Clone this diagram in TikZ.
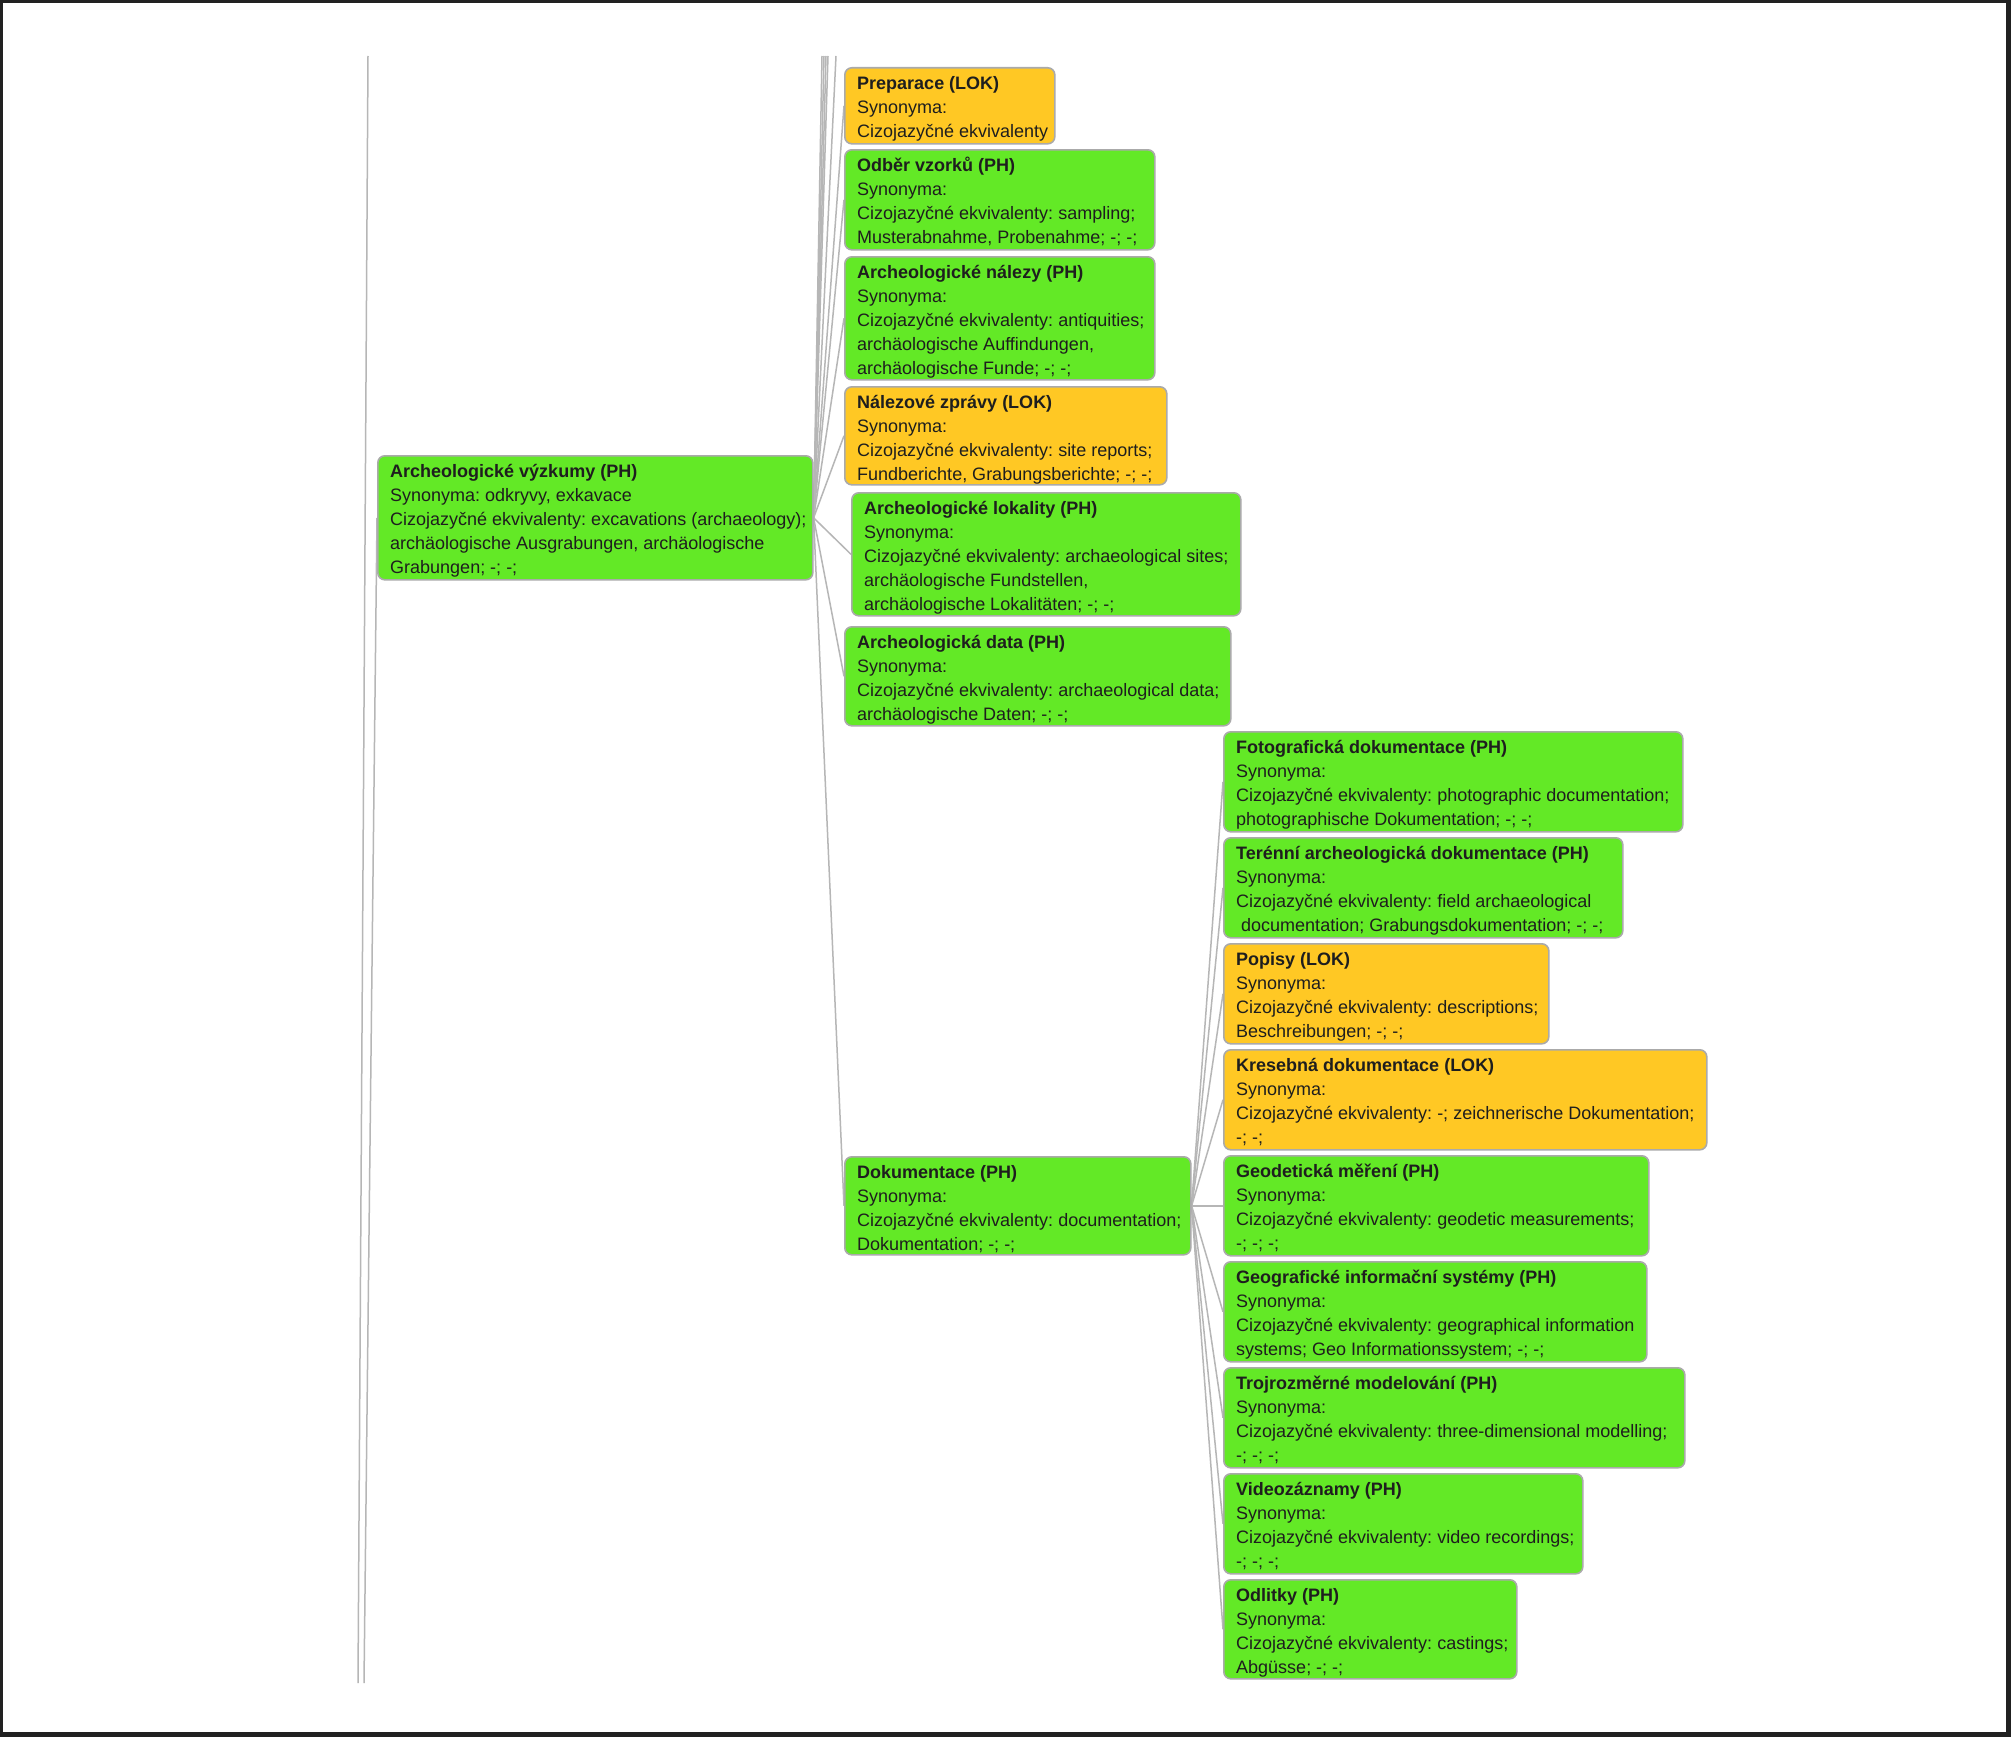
\documentclass[tikz,border=0pt]{standalone}
\usepackage{fontspec}
\setmainfont{Liberation Sans}
\usetikzlibrary{backgrounds}
\definecolor{gr}{RGB}{99,233,38}
\definecolor{og}{RGB}{255,200,36}
\definecolor{bd}{RGB}{170,170,170}
\definecolor{ln}{RGB}{182,182,182}
\definecolor{tx}{RGB}{30,30,30}
\definecolor{fr}{RGB}{33,33,33}
\tikzset{
  box/.style={draw=bd, line width=1.6pt, rounded corners=7pt, inner sep=0pt, anchor=north west},
  phbox/.style={box, fill=gr},
  lokbox/.style={box, fill=og},
  txt/.style={inner sep=0pt, anchor=north west, align=left, text=tx, font=\fontsize{18}{24}\selectfont\frenchspacing},
  conn/.style={draw=ln, line width=1.5pt},
}
% name, x1, y1, x2, y2, style, text
\newcommand{\termbox}[7]{%
  \node[#6, minimum width={#4-#2}, minimum height={#5-#3}] (#1) at (#2,#3) {};
  \node[txt] (#1t) at ({#2+13},{#3+5}) {\rule{0pt}{17pt}#7};
}
\begin{document}
\begin{tikzpicture}[x=1pt,y=-1pt]
\useasboundingbox (0,0) rectangle (2011,1737);

\termbox{root}{377}{455}{812}{579}{phbox}{\textbf{Archeologické výzkumy (PH)}\\Synonyma: odkryvy, exkavace\\Cizojazyčné ekvivalenty: excavations (archaeology);\\archäologische Ausgrabungen, archäologische\\Grabungen; -; -;}

\termbox{prep}{844}{67}{1054}{143}{lokbox}{\textbf{Preparace (LOK)}\\Synonyma:\\Cizojazyčné ekvivalenty}
\termbox{odber}{844}{149}{1154}{249}{phbox}{\textbf{Odběr vzorků (PH)}\\Synonyma:\\Cizojazyčné ekvivalenty: sampling;\\Musterabnahme, Probenahme; -; -;}
\termbox{nalezy}{844}{256}{1154}{379}{phbox}{\textbf{Archeologické nálezy (PH)}\\Synonyma:\\Cizojazyčné ekvivalenty: antiquities;\\archäologische Auffindungen,\\archäologische Funde; -; -;}
\termbox{zpravy}{844}{386}{1166}{484}{lokbox}{\textbf{Nálezové zprávy (LOK)}\\Synonyma:\\Cizojazyčné ekvivalenty: site reports;\\Fundberichte, Grabungsberichte; -; -;}
\termbox{lokal}{851}{492}{1240}{615}{phbox}{\textbf{Archeologické lokality (PH)}\\Synonyma:\\Cizojazyčné ekvivalenty: archaeological sites;\\archäologische Fundstellen,\\archäologische Lokalitäten; -; -;}
\termbox{data}{844}{626}{1230}{725}{phbox}{\textbf{Archeologická data (PH)}\\Synonyma:\\Cizojazyčné ekvivalenty: archaeological data;\\archäologische Daten; -; -;}
\termbox{dok}{844}{1156}{1190}{1254}{phbox}{\textbf{Dokumentace (PH)}\\Synonyma:\\Cizojazyčné ekvivalenty: documentation;\\Dokumentation; -; -;}

\termbox{foto}{1223}{731}{1682}{831}{phbox}{\textbf{Fotografická dokumentace (PH)}\\Synonyma:\\Cizojazyčné ekvivalenty: photographic documentation;\\photographische Dokumentation; -; -;}
\termbox{teren}{1223}{837}{1622}{937}{phbox}{\textbf{Terénní archeologická dokumentace (PH)}\\Synonyma:\\Cizojazyčné ekvivalenty: field archaeological\\\hspace*{5pt}documentation; Grabungsdokumentation; -; -;}
\termbox{popisy}{1223}{943}{1548}{1043}{lokbox}{\textbf{Popisy (LOK)}\\Synonyma:\\Cizojazyčné ekvivalenty: descriptions;\\Beschreibungen; -; -;}
\termbox{kres}{1223}{1049}{1706}{1149}{lokbox}{\textbf{Kresebná dokumentace (LOK)}\\Synonyma:\\Cizojazyčné ekvivalenty: -; zeichnerische Dokumentation;\\-; -;}
\termbox{geod}{1223}{1155}{1648}{1255}{phbox}{\textbf{Geodetická měření (PH)}\\Synonyma:\\Cizojazyčné ekvivalenty: geodetic measurements;\\-; -; -;}
\termbox{geog}{1223}{1261}{1646}{1361}{phbox}{\textbf{Geografické informační systémy (PH)}\\Synonyma:\\Cizojazyčné ekvivalenty: geographical information\\systems; Geo Informationssystem; -; -;}
\termbox{troj}{1223}{1367}{1684}{1467}{phbox}{\textbf{Trojrozměrné modelování (PH)}\\Synonyma:\\Cizojazyčné ekvivalenty: three-dimensional modelling;\\-; -; -;}
\termbox{video}{1223}{1473}{1582}{1573}{phbox}{\textbf{Videozáznamy (PH)}\\Synonyma:\\Cizojazyčné ekvivalenty: video recordings;\\-; -; -;}
\termbox{odl}{1223}{1579}{1516}{1678}{phbox}{\textbf{Odlitky (PH)}\\Synonyma:\\Cizojazyčné ekvivalenty: castings;\\Abgüsse; -; -;}

\coordinate (t1) at (822,56);
\coordinate (t2) at (824,56);
\coordinate (t3) at (826,56);
\coordinate (t4) at (828,56);
\coordinate (t5) at (836,56);
\coordinate (a1) at (368,56);
\coordinate (a2) at (358,1683);
\coordinate (b2) at (364,1683);

\begin{pgfonlayer}{background}
  \fill[fr] (0,0) rectangle (2011,1737);
  \fill[white] (3,3) rectangle (2006,1732);
  \draw[conn] (a1) -- (a2);
  \draw[conn] (root.west) -- (b2);
  \foreach \t in {t1,t2,t3,t4,t5} \draw[conn] (root.east) -- (\t);
  \foreach \c in {prep,odber,nalezy,zpravy,lokal,data,dok} \draw[conn] (root.east) -- (\c.west);
  \foreach \c in {foto,teren,popisy,kres,geod,geog,troj,video,odl} \draw[conn] (dok.east) -- (\c.west);
\end{pgfonlayer}
\end{tikzpicture}
\end{document}
